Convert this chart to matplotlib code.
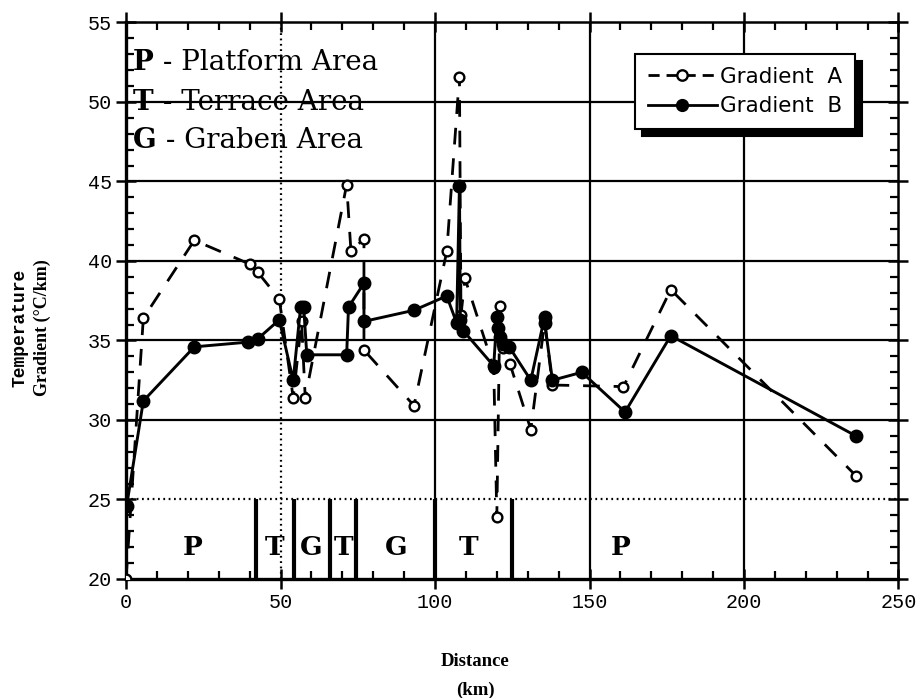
import matplotlib
matplotlib.use("Agg")
import matplotlib.pyplot as plt
from matplotlib.ticker import MultipleLocator
from matplotlib.lines import Line2D

# Gradient A (open circles, dashed line)
dist_a = [0.0, 5.6, 22.1, 40.1, 42.6, 49.6, 54.1, 56.8, 58.0, 71.4, 72.8, 77.0,
          77.0, 93.2, 103.8, 107.9, 108.4, 109.7, 119.0, 120.0, 121.0, 122.0,
          124.3, 131.0, 135.5, 138.0, 161.0, 176.3, 236.2]
grad_a = [20.0, 36.4, 41.3, 39.8, 39.3, 37.6, 31.4, 36.2, 31.4, 44.8, 40.6, 41.4,
          34.4, 30.9, 40.6, 51.6, 36.6, 38.9, 33.3, 23.9, 37.2, 34.5,
          33.5, 29.4, 36.2, 32.2, 32.1, 38.2, 26.5]

# Gradient B (filled circles, solid line)
dist_b = [0.2, 5.6, 22.1, 39.6, 42.6, 49.6, 54.1, 56.5, 57.5, 58.5, 71.4, 72.0,
          77.0, 77.0, 93.2, 103.8, 107.0, 107.9, 108.2, 109.2, 119.0, 120.0,
          120.5, 121.0, 122.0, 124.0, 131.0, 135.5, 135.5, 138.0, 147.5, 161.5,
          176.3, 236.2]
grad_b = [24.6, 31.2, 34.6, 34.9, 35.1, 36.3, 32.5, 37.1, 37.1, 34.1, 34.1, 37.1,
          38.6, 36.2, 36.9, 37.8, 36.1, 44.7, 36.3, 35.6, 33.4, 36.5,
          35.8, 35.2, 34.8, 34.6, 32.5, 36.5, 36.1, 32.5, 33.0, 30.5,
          35.3, 29.0]

# Structural zones along the profile
zone_bounds = [42, 54.5, 66, 74.5, 100, 125]
zone_letters = ["P", "T", "G", "T", "G", "T", "P"]
zone_centers = [21.5, 48, 60, 70.5, 87.5, 111, 160]
key_letters = ["P", "T", "G"]
key_names = [" - Platform Area", " - Terrace Area", " - Graben Area"]

x_ticks = [0, 50, 100, 150, 200, 250]
y_ticks = [20, 25, 30, 35, 40, 45, 50, 55]
solid_y_grid = [30, 35, 40, 45, 50]
solid_x_grid = [100, 150, 200]

SERIF = "DejaVu Serif"
TSERIF = "Liberation Serif"
MONO = "Liberation Mono"

fig = plt.figure(figsize=(9.22, 6.98), dpi=100)
ax = fig.add_axes([0.1367, 0.1705, 0.8378, 0.7973])
ax.set_xlim(0, 250)
ax.set_ylim(20, 55)

# grid
for y in solid_y_grid:
    ax.axhline(y, color="black", lw=1.6, zorder=1)
for x in solid_x_grid:
    ax.axvline(x, color="black", lw=1.6, zorder=1)
ax.axhline(25, color="black", lw=1.6, ls=(0, (0.8, 1.6)), zorder=1)
ax.axvline(50, color="black", lw=1.6, ls=(0, (0.8, 1.6)), zorder=1)

# zone dividers and letters
for xb in zone_bounds:
    ax.plot([xb, xb], [20, 25], color="black", lw=3.0, zorder=2,
            solid_capstyle="butt")
for xc, letter in zip(zone_centers, zone_letters):
    ax.text(xc, 21.5, letter, ha="center", va="baseline", fontsize=19,
            fontweight="bold", family=SERIF, zorder=3)

# data
ax.plot(dist_a, grad_a, color="black", lw=2.0, ls=(0, (6, 5)), marker="o",
        markersize=7, markerfacecolor="white", markeredgecolor="black",
        markeredgewidth=1.7, zorder=4)
ax.plot(dist_b, grad_b, color="black", lw=2.1, marker="o", markersize=9,
        markerfacecolor="black", markeredgecolor="black", zorder=5)

# key text at upper left
for i, (letter, name) in enumerate(zip(key_letters, key_names)):
    yb = [52.0, 49.5, 47.1][i]
    t = ax.text(2.3, yb, letter, fontsize=20, fontweight="bold", family=SERIF,
                va="baseline", ha="left", zorder=6)
    ax.annotate(name, xy=(1, 0), xycoords=t, va="bottom", ha="left",
                fontsize=20, family=SERIF, zorder=6)

# ticks
ax.set_xticks(x_ticks)
ax.set_yticks(y_ticks)
ax.xaxis.set_minor_locator(MultipleLocator(10))
ax.yaxis.set_minor_locator(MultipleLocator(1))
ax.tick_params(which="major", direction="inout", length=14, width=1.8,
               top=True, right=True, labelsize=14.5, pad=3)
ax.tick_params(which="minor", direction="in", length=6, width=1.6,
               top=True, right=True)
for lab in ax.get_xticklabels() + ax.get_yticklabels():
    lab.set_family(MONO)
for side in ["left", "bottom", "right", "top"]:
    ax.spines[side].set_linewidth(1.8)
ax.spines["left"].set_linewidth(2.4)
ax.spines["bottom"].set_linewidth(2.4)

# legend
handles = [
    Line2D([], [], color="black", lw=2.0, ls=(0, (4, 2.5)), marker="o",
           markersize=7.5, markerfacecolor="white", markeredgecolor="black",
           markeredgewidth=1.7),
    Line2D([], [], color="black", lw=2.0, marker="o", markersize=8.5,
           markerfacecolor="black", markeredgecolor="black"),
]
leg = ax.legend(handles, ["Gradient  A", "Gradient  B"], loc="upper left",
                bbox_to_anchor=(0.659, 0.944), frameon=True, fancybox=False,
                shadow={"color": "black", "alpha": 1.0, "ox": 5, "oy": -5},
                edgecolor="black", framealpha=1.0,
                handlelength=3.2, handletextpad=0.15, borderpad=0.6,
                labelspacing=0.45, borderaxespad=0,
                prop={"family": "DejaVu Sans", "size": 15.5})
leg.get_frame().set_linewidth(1.5)
leg.set_zorder(7)

# axis titles
fig.text(475 / 922, 1 - 662 / 698, "Distance", ha="center", va="center",
         fontsize=13.5, fontweight="bold", family=TSERIF)
fig.text(475 / 922, 1 - 690 / 698, "(km)", ha="center", va="center",
         fontsize=13.5, fontweight="bold", family=TSERIF)
fig.text(20 / 922, 1 - 328 / 698, "Temperature", ha="center", va="center",
         rotation=90, fontsize=13, fontweight="bold", family=MONO)
fig.text(42 / 922, 1 - 328 / 698, "Gradient (°C/km)", ha="center",
         va="center", rotation=90, fontsize=13, fontweight="bold",
         family=TSERIF)

fig.savefig("out.png", dpi=100)
